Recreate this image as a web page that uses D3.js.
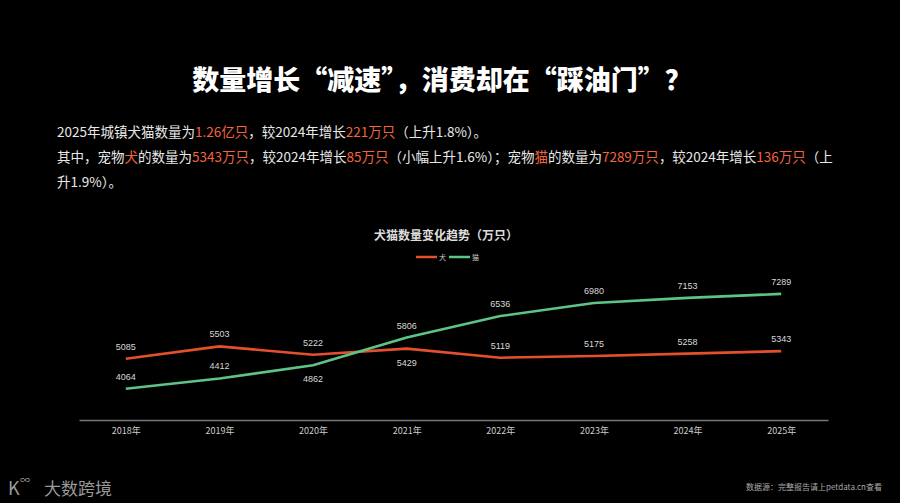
<!DOCTYPE html>
<html>
<head>
<meta charset="utf-8">
<script src="https://cdn.jsdelivr.net/npm/d3@7"></script>
<style>
  html, body { margin: 0; padding: 0; background: #000; }
  svg { display: block; font-family: "Noto Sans CJK SC", "Noto Sans", sans-serif; }
</style>
</head>
<body>
<svg id="chart" width="900" height="503"></svg>
<script>
const years = ["2018年", "2019年", "2020年", "2021年", "2022年", "2023年", "2024年", "2025年"];
const dogs = [5085, 5503, 5222, 5429, 5119, 5175, 5258, 5343];
const cats = [4064, 4412, 4862, 5806, 6536, 6980, 7153, 7289];
// where each value label sits relative to its point
const dogLabelPos = ["top", "top", "top", "bottom", "top", "top", "top", "top"];
const catLabelPos = ["top", "top", "bottom", "top", "top", "top", "top", "top"];
const seriesNames = ["犬", "猫"];

const titleText = "数量增长“减速”，消费却在“踩油门”？";
const chartTitle = "犬猫数量变化趋势（万只）";
const sourceText = "数据源：完整报告请上petdata.cn查看";

// paragraph, split into lines; hl = highlighted
const paragraph = [
    [["2025年城镇犬猫数量为", false], ["1.26亿只", true], ["，较2024年增长", false], ["221万只", true], ["（上升1.8%）。", false]],
    [["其中，宠物", false], ["犬", true], ["的数量为", false], ["5343万只", true], ["，较2024年增长", false], ["85万只", true],
     ["（小幅上升1.6%）；宠物", false], ["猫", true], ["的数量为", false], ["7289万只", true], ["，较2024年增长", false], ["136万只", true], ["（上", false]],
    [["升1.9%）。", false]]
];

const red = "#e5502c";
const green = "#5ec486";

const svg = d3.select("#chart");

svg.append("text")
    .attr("x", 442)
    .attr("y", 90)
    .attr("text-anchor", "middle")
    .attr("fill", "#fff")
    .attr("font-size", 27)
    .attr("font-weight", 900)
    .text(titleText);

const para = svg.append("g");
paragraph.forEach((line, i) => {
    const t = para.append("text")
        .attr("x", 57)
        .attr("y", 137 + i * 25)
        .attr("font-size", 13.5)
        .attr("fill", "#e8e8e8");
    line.forEach(seg => {
        t.append("tspan")
            .attr("fill", seg[1] ? "#f2643d" : "#e8e8e8")
            .text(seg[0]);
    });
});

svg.append("text")
    .attr("x", 446)
    .attr("y", 240)
    .attr("text-anchor", "middle")
    .attr("fill", "#ddd")
    .attr("font-size", 12)
    .attr("font-weight", "bold")
    .text(chartTitle);

// legend
const legend = svg.append("g").attr("transform", "translate(416,257)");
[red, green].forEach((c, i) => {
    const g = legend.append("g").attr("transform", `translate(${i * 33},0)`);
    g.append("line")
        .attr("x1", 0).attr("x2", 21)
        .attr("stroke", c)
        .attr("stroke-width", 2.5);
    g.append("text")
        .attr("x", 23)
        .attr("y", 2.5)
        .attr("font-size", 7)
        .attr("fill", "#ccc")
        .text(seriesNames[i]);
});

// scales
const xScale = d3.scalePoint()
    .domain(years)
    .range([79, 828])
    .padding(0.5);

const yScale = d3.scaleLinear()
    .domain([3000, 8000])
    .range([420, 273]);

const xAxis = svg.append("g")
    .attr("transform", "translate(0,420)")
    .call(d3.axisBottom(xScale).tickSize(0).tickPadding(8));
xAxis.select(".domain").attr("stroke", "#777").attr("stroke-width", 1.5);
xAxis.selectAll("text")
    .attr("fill", "#ccc")
    .attr("font-size", 9)
    .style("font-family", "'Noto Sans CJK SC', sans-serif");

const line = d3.line()
    .x((d, i) => xScale(years[i]))
    .y(d => yScale(d));

function drawSeries(values, color, labelPos) {
    svg.append("path")
        .datum(values)
        .attr("fill", "none")
        .attr("stroke", color)
        .attr("stroke-width", 2.6)
        .attr("stroke-linejoin", "round")
        .attr("d", line);

    svg.append("g")
        .selectAll("text")
        .data(values)
        .join("text")
        .attr("x", (d, i) => xScale(years[i]))
        .attr("y", (d, i) => yScale(d) + (labelPos[i] === "top" ? -9 : 17))
        .attr("text-anchor", "middle")
        .attr("font-size", 9)
        .attr("fill", "#d8d8d8")
        .style("font-family", "'Liberation Sans', Arial, sans-serif")
        .text(d => d);
}

drawSeries(dogs, red, dogLabelPos);
drawSeries(cats, green, catLabelPos);

// footer
svg.append("text")
    .attr("x", 882)
    .attr("y", 490)
    .attr("text-anchor", "end")
    .attr("font-size", 8)
    .attr("fill", "#aaa")
    .text(sourceText);

const logo = svg.append("g").attr("fill", "#9a9a9a");
logo.append("text")
    .attr("x", 8).attr("y", 495)
    .attr("font-size", 18)
    .text("K");
logo.append("text")
    .attr("x", 20).attr("y", 484)
    .attr("font-size", 10)
    .text("∞");
logo.append("text")
    .attr("x", 44).attr("y", 495)
    .attr("font-size", 17)
    .text("大数跨境");
</script>
</body>
</html>
